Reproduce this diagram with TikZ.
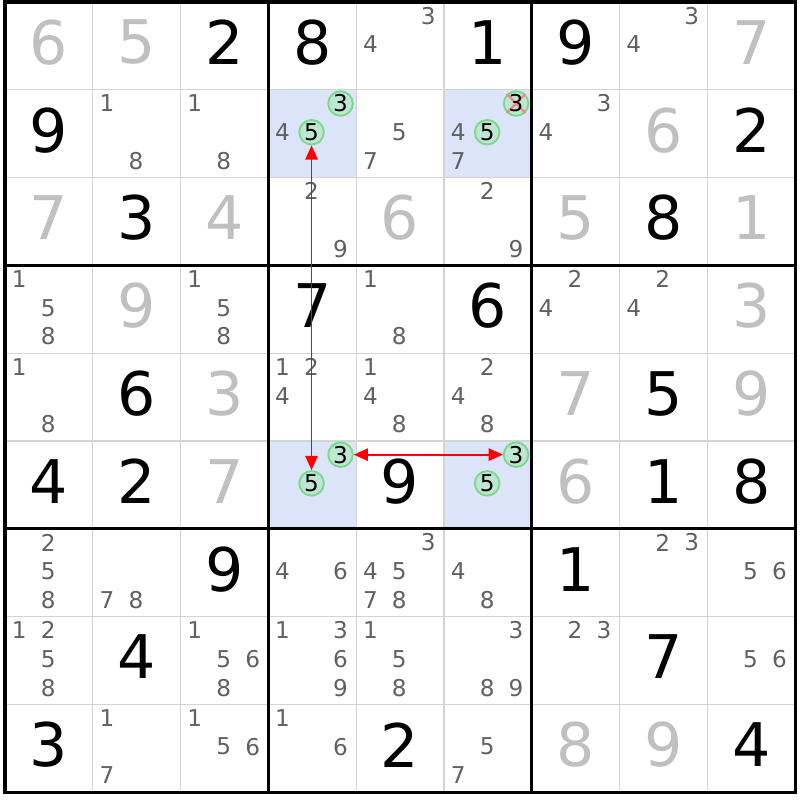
\documentclass[tikz,border=0pt]{standalone}
\usepackage{fontspec}
\setmainfont{DejaVu Sans}
\usetikzlibrary{arrows.meta}
\usetikzlibrary{shapes}
\usetikzlibrary{calc}

\definecolor{givengrey}{HTML}{C0C0C0}
\definecolor{candgrey}{HTML}{606060}
\definecolor{gridgrey}{HTML}{D4D4D4}
\definecolor{hilite}{HTML}{DCE4FA}
\definecolor{circfill}{HTML}{BEE6D2}
\definecolor{circline}{HTML}{78DA88}
\definecolor{crossred}{HTML}{FF8080}

\tikzset{
  given/.style={font=\fontsize{19.5}{21}\selectfont, text=black, inner sep=0pt},
  solved/.style={given, text=givengrey},
  cand/.style={font=\fontsize{7.5}{8}\selectfont, text=candgrey, inner sep=0pt},
  circcand/.style={circle, draw=circline, fill=circfill, line width=0.6pt,
    minimum size=0.28cm, inner sep=0pt, font=\fontsize{7.5}{8}\selectfont, text=black},
  link/.style={red, line width=0.55pt, {Triangle[length=4.6pt,width=4pt]}-{Triangle[length=4.6pt,width=4pt]}},
  cross/.style={crossred, line width=0.7pt}
}

\begin{document}
\begin{tikzpicture}[x=1cm, y=-1cm]
\useasboundingbox (-0.057,-0.023) rectangle (9.055,9.09);

% highlighted cells
\foreach \c/\r in {3/1, 5/1, 3/5, 5/5}
  \fill[hilite] (\c,\r) rectangle (\c+1,\r+1);

% thin lines
\foreach \i in {1,2,4,5,7,8} {
  \draw[gridgrey, line width=0.4pt] (\i,0) -- (\i,9);
  \draw[gridgrey, line width=0.4pt] (0,\i) -- (9,\i);
}
% thick lines
\foreach \i in {0,3,6,9} {
  \draw[black, line width=1pt, line cap=rect] (\i,0) -- (\i,9);
  \draw[black, line width=1pt, line cap=rect] (0,\i) -- (9,\i);
}

% givens
\foreach \r/\c/\d in {0/2/2, 0/3/8, 0/5/1, 0/6/9, 1/0/9, 1/8/2, 2/1/3, 2/7/8,
    3/3/7, 3/5/6, 4/1/6, 4/7/5, 5/0/4, 5/1/2, 5/4/9, 5/7/1, 5/8/8,
    6/2/9, 6/6/1, 7/1/4, 7/7/7, 8/0/3, 8/4/2, 8/8/4}
  \node[given] (g\r\c) at (\c+0.5,\r+0.46) {\d};

% solved cells
\foreach \r/\c/\d in {0/0/6, 0/1/5, 0/8/7, 1/7/6, 2/0/7, 2/2/4, 2/4/6, 2/6/5, 2/8/1,
    3/1/9, 3/8/3, 4/2/3, 4/6/7, 4/8/9, 5/2/7, 5/6/6, 8/6/8, 8/7/9}
  \node[solved] (s\r\c) at (\c+0.5,\r+0.46) {\d};

% pencil marks
\foreach \r/\c/\ds in {0/4/{3,4}, 0/7/{3,4},
    1/1/{1,8}, 1/2/{1,8}, 1/3/{4}, 1/4/{5,7}, 1/5/{4,7}, 1/6/{3,4},
    2/3/{2,9}, 2/5/{2,9},
    3/0/{1,5,8}, 3/2/{1,5,8}, 3/4/{1,8}, 3/6/{2,4}, 3/7/{2,4},
    4/0/{1,8}, 4/3/{1,2,4}, 4/4/{1,4,8}, 4/5/{2,4,8},
    6/0/{2,5,8}, 6/1/{7,8}, 6/3/{4,6}, 6/4/{3,4,5,7,8}, 6/5/{4,8}, 6/7/{2,3}, 6/8/{5,6},
    7/0/{1,2,5,8}, 7/2/{1,5,6,8}, 7/3/{1,3,6,9}, 7/4/{1,5,8}, 7/5/{3,8,9}, 7/6/{2,3}, 7/8/{5,6},
    8/1/{1,7}, 8/2/{1,5,6}, 8/3/{1,6}, 8/5/{5,7}}
  \foreach \d in \ds
    \node[cand] (p\r\c\d) at ({\c+0.162+0.33*mod(\d-1,3)},{\r+0.156+0.327*int((\d-1)/3)}) {\d};

% chain candidates
\node[circcand] (r1c3n3) at (3.822,1.156) {3};
\node[circcand] (r1c3n5) at (3.492,1.483) {5};
\node[circcand] (r1c5n3) at (5.822,1.156) {};
\node[circcand] (r1c5n5) at (5.492,1.483) {5};
\node[circcand] (r5c3n3) at (3.822,5.156) {3};
\node[circcand] (r5c3n5) at (3.492,5.483) {5};
\node[circcand] (r5c5n3) at (5.822,5.156) {3};
\node[circcand] (r5c5n5) at (5.492,5.483) {5};

% eliminated 3
\draw[cross] (r1c5n3.north west) -- (r1c5n3.south east);
\draw[cross] (r1c5n3.north east) -- (r1c5n3.south west);
\node[font=\fontsize{7.5}{8}\selectfont, inner sep=0pt] at (r1c5n3) {3};

% links
\draw[link] (r5c3n5) -- (r1c3n5);
\draw[link] (r5c3n3) -- (r5c5n3);

\end{tikzpicture}
\end{document}
